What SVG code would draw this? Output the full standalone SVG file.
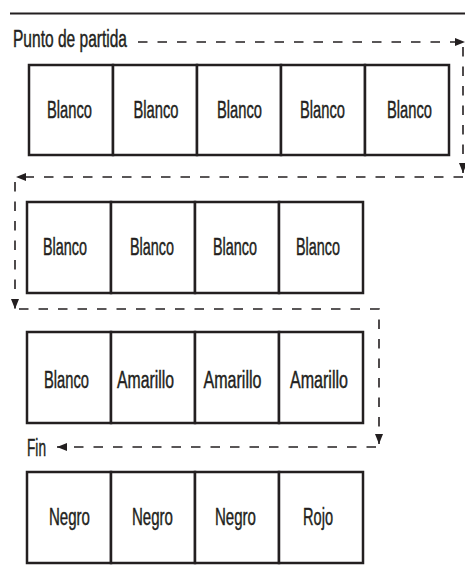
<svg xmlns="http://www.w3.org/2000/svg" width="465" height="573" viewBox="0 0 465 573">
<style>
.box{fill:#fff;stroke:#231f20;stroke-width:2.5}
.t{font-family:"Liberation Sans Narrow","Liberation Sans",Arial,sans-serif;font-size:23.5px;fill:#231f20;stroke:#231f20;stroke-width:0.45;text-anchor:middle}
.l{font-family:"Liberation Sans Narrow","Liberation Sans",Arial,sans-serif;font-size:23.5px;fill:#231f20;stroke:#231f20;stroke-width:0.45}
.d{fill:none;stroke:#231f20;stroke-width:1.6;stroke-dasharray:9.5 10}
</style>
<defs>
<marker id="ah" viewBox="0 0 10 8" refX="10" refY="4" markerWidth="10" markerHeight="8" markerUnits="userSpaceOnUse" orient="auto">
<path d="M0,0 L10,4 L0,8 Z" fill="#231f20"/>
</marker>
</defs>
<rect x="0" y="0" width="465" height="573" fill="#fff"/>
<line x1="10" y1="13.5" x2="465" y2="13.5" stroke="#231f20" stroke-width="2"/>
<text class="l" x="13" y="47" textLength="114" lengthAdjust="spacingAndGlyphs">Punto de partida</text>
<text class="l" x="27" y="456" textLength="19" lengthAdjust="spacingAndGlyphs">Fin</text>

<g id="connectors">
<path class="d" d="M138,42 H465" marker-end="url(#ah)"/>
<path class="d" d="M463,47 V173" marker-end="url(#ah)"/>
<path class="d" d="M463,177 H16" marker-end="url(#ah)"/>
<path class="d" d="M15,182 V309" marker-end="url(#ah)"/>
<path class="d" d="M19,309 H379 V444" marker-end="url(#ah)"/>
<path class="d" d="M376,447 H57" marker-end="url(#ah)"/>
</g>

<g id="r1c1"><rect class="box" x="29" y="65" width="84" height="90"/><text class="t" x="69.5" y="118" textLength="45" lengthAdjust="spacingAndGlyphs">Blanco</text></g>
<g id="r1c2"><rect class="box" x="113" y="65" width="84" height="90"/><text class="t" x="156" y="118" textLength="45" lengthAdjust="spacingAndGlyphs">Blanco</text></g>
<g id="r1c3"><rect class="box" x="197" y="65" width="84" height="90"/><text class="t" x="239.5" y="118" textLength="45" lengthAdjust="spacingAndGlyphs">Blanco</text></g>
<g id="r1c4"><rect class="box" x="281" y="65" width="84" height="90"/><text class="t" x="322.5" y="118" textLength="45" lengthAdjust="spacingAndGlyphs">Blanco</text></g>
<g id="r1c5"><rect class="box" x="365" y="65" width="84" height="90"/><text class="t" x="409.5" y="118" textLength="45" lengthAdjust="spacingAndGlyphs">Blanco</text></g>

<g id="r2c1"><rect class="box" x="27" y="202" width="84" height="91"/><text class="t" x="65" y="255" textLength="44" lengthAdjust="spacingAndGlyphs">Blanco</text></g>
<g id="r2c2"><rect class="box" x="111" y="202" width="84" height="91"/><text class="t" x="152" y="255" textLength="44" lengthAdjust="spacingAndGlyphs">Blanco</text></g>
<g id="r2c3"><rect class="box" x="195" y="202" width="84" height="91"/><text class="t" x="235" y="255" textLength="44" lengthAdjust="spacingAndGlyphs">Blanco</text></g>
<g id="r2c4"><rect class="box" x="279" y="202" width="84" height="91"/><text class="t" x="318" y="255" textLength="44" lengthAdjust="spacingAndGlyphs">Blanco</text></g>

<g id="r3c1"><rect class="box" x="27" y="332" width="84" height="91"/><text class="t" x="66.5" y="388" textLength="45" lengthAdjust="spacingAndGlyphs">Blanco</text></g>
<g id="r3c2"><rect class="box" x="111" y="332" width="84" height="91"/><text class="t" x="145.5" y="388" textLength="57" lengthAdjust="spacingAndGlyphs">Amarillo</text></g>
<g id="r3c3"><rect class="box" x="195" y="332" width="84" height="91"/><text class="t" x="232.5" y="388" textLength="58" lengthAdjust="spacingAndGlyphs">Amarillo</text></g>
<g id="r3c4"><rect class="box" x="279" y="332" width="84" height="91"/><text class="t" x="319" y="388" textLength="58" lengthAdjust="spacingAndGlyphs">Amarillo</text></g>

<g id="r4c1"><rect class="box" x="27" y="472" width="84" height="91"/><text class="t" x="69.5" y="525" textLength="41" lengthAdjust="spacingAndGlyphs">Negro</text></g>
<g id="r4c2"><rect class="box" x="111" y="472" width="84" height="91"/><text class="t" x="152.5" y="525" textLength="41" lengthAdjust="spacingAndGlyphs">Negro</text></g>
<g id="r4c3"><rect class="box" x="195" y="472" width="84" height="91"/><text class="t" x="235.5" y="525" textLength="41" lengthAdjust="spacingAndGlyphs">Negro</text></g>
<g id="r4c4"><rect class="box" x="279" y="472" width="84" height="91"/><text class="t" x="318" y="525" textLength="30" lengthAdjust="spacingAndGlyphs">Rojo</text></g>
</svg>
